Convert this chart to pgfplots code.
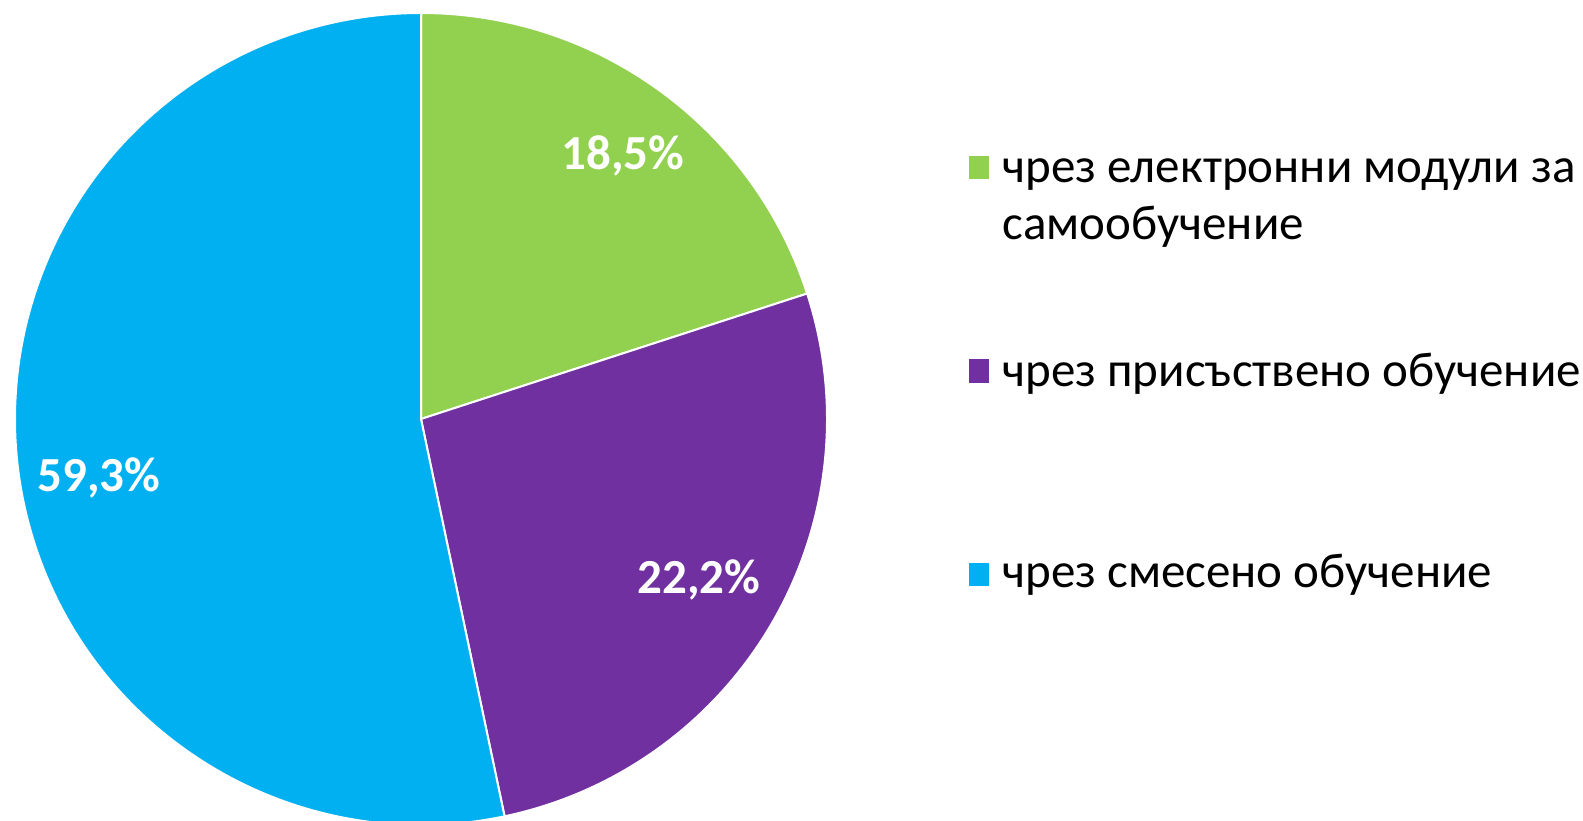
\documentclass[border=0pt]{standalone}
\usepackage{pgfplots}
\usepackage{pgfplotstable}
\pgfplotsset{compat=1.18}
\usepackage{fontspec}
\setmainfont{Carlito}
\definecolor{cgreen}{HTML}{92D050}
\definecolor{cpurple}{HTML}{7030A0}
\definecolor{cblue}{HTML}{00B0F0}

% slice shares (as drawn); printed labels are 18,5 / 22,2 / 59,3
\pgfplotstableread{
share
20.0
26.7
53.3
}\piedata

\pgfplotstablegetelem{0}{share}\of\piedata \let\sA\pgfplotsretval
\pgfplotstablegetelem{1}{share}\of\piedata \let\sB\pgfplotsretval
\pgfplotstablegetelem{2}{share}\of\piedata \let\sC\pgfplotsretval
\pgfmathsetmacro\aA{90}
\pgfmathsetmacro\aB{\aA-3.6*\sA}
\pgfmathsetmacro\aC{\aB-3.6*\sB}
\pgfmathsetmacro\aD{\aC-3.6*\sC}

\begin{document}
\begin{tikzpicture}
\begin{axis}[
  scale only axis, width=791.5pt, height=410pt,
  xmin=0, xmax=1583, ymin=0, ymax=820,
  enlargelimits=false, hide axis, clip=true]
\def\R{203pt}
\fill[cgreen, draw=white, line width=1pt] (axis cs:421,401) -- ++(\aA:\R) arc[start angle=\aA, end angle=\aB, radius=\R] -- cycle;
\fill[cpurple, draw=white, line width=1pt] (axis cs:421,401) -- ++(\aB:\R) arc[start angle=\aB, end angle=\aC, radius=\R] -- cycle;
\fill[cblue, draw=white, line width=1pt] (axis cs:421,401) -- ++(\aC:\R) arc[start angle=\aC, end angle=\aD, radius=\R] -- cycle;

\node[text=white, font=\fontsize{24.5pt}{29pt}\selectfont\bfseries] at (axis cs:623,664) {18,5\%};
\node[text=white, font=\fontsize{24.5pt}{29pt}\selectfont\bfseries] at (axis cs:699,240) {22,2\%};
\node[text=white, font=\fontsize{24.5pt}{29pt}\selectfont\bfseries] at (axis cs:99,342) {59,3\%};

% legend
\fill[cgreen] (axis cs:969,641) rectangle (axis cs:989,664);
\fill[cpurple] (axis cs:969,437) rectangle (axis cs:989,461);
\fill[cblue] (axis cs:969,234) rectangle (axis cs:989,257);
\node[anchor=base west, inner sep=0pt, font=\fontsize{24.5pt}{28.5pt}\selectfont] at (axis cs:1002,637) {чрез електронни модули за};
\node[anchor=base west, inner sep=0pt, font=\fontsize{24.5pt}{28.5pt}\selectfont] at (axis cs:1002,580) {самообучение};
\node[anchor=base west, inner sep=0pt, font=\fontsize{24.5pt}{28.5pt}\selectfont] at (axis cs:1002,433) {чрез присъствено обучение};
\node[anchor=base west, inner sep=0pt, font=\fontsize{24.5pt}{28.5pt}\selectfont] at (axis cs:1002,233) {чрез смесено обучение};
\end{axis}
\pgfresetboundingbox
\path[use as bounding box] (current axis.south west) rectangle (current axis.north east);
\end{tikzpicture}
\end{document}
